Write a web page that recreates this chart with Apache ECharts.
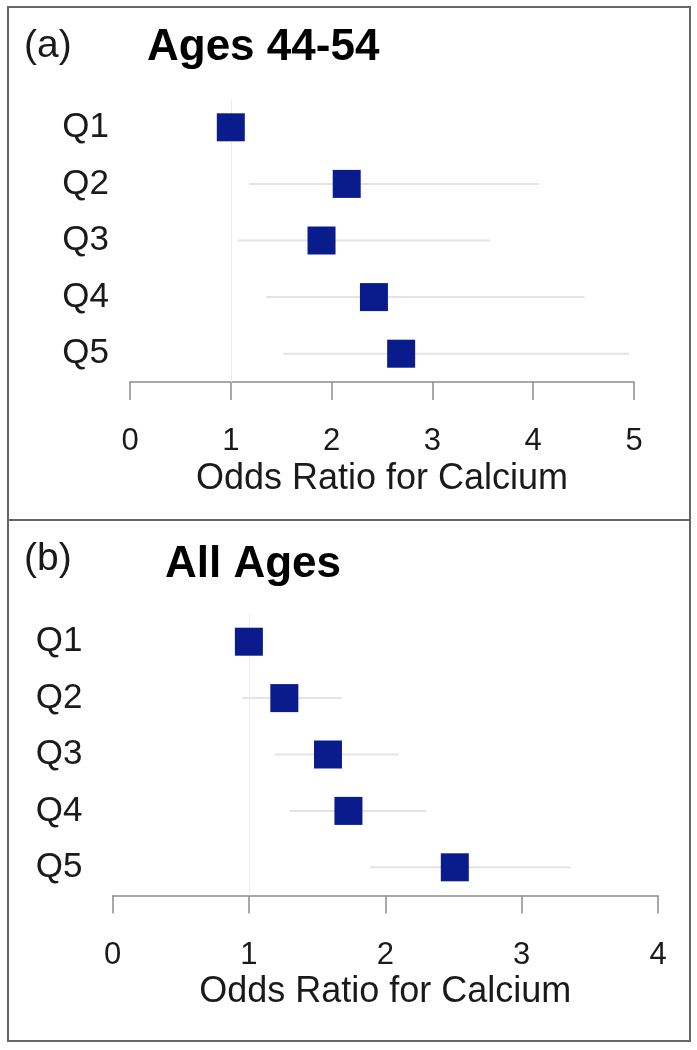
<!DOCTYPE html>
<html><head><meta charset="utf-8">
<script src="https://cdn.jsdelivr.net/npm/echarts@6/dist/echarts.min.js"></script>
<style>html,body{margin:0;padding:0;background:#fff}#c{width:697px;height:1050px}</style>
</head><body><div id="c"></div>
<script>
var categories = ['Q1','Q2','Q3','Q4','Q5'];
// Panel (a): Ages 44-54
var orA   = [1.00, 2.15, 1.90, 2.42, 2.69];
var lowA  = [1.00, 1.18, 1.07, 1.35, 1.52];
var highA = [1.00, 4.06, 3.57, 4.51, 4.95];
// Panel (b): All Ages
var orB   = [1.00, 1.26, 1.58, 1.73, 2.51];
var lowB  = [1.00, 0.95, 1.19, 1.30, 1.89];
var highB = [1.00, 1.68, 2.10, 2.30, 3.36];
var ticksA = [0, 1, 2, 3, 4, 5];
var ticksB = [0, 1, 2, 3, 4];
var panelTitles = ['Ages 44-54', 'All Ages'];
var panelLetters = ['(a)', '(b)'];
var axisName = 'Odds Ratio for Calcium';

var FONT = '"Liberation Sans", Arial, sans-serif';
var navy = '#0a1c8c';

function errData(low, high){
  return categories.map(function(c,i){ return [low[i], high[i], i]; });
}
function ptData(or){
  return categories.map(function(c,i){ return [or[i], i]; });
}
function renderErr(params, api){
  var a = api.coord([api.value(0), api.value(2)]);
  var b = api.coord([api.value(1), api.value(2)]);
  return {type:'line', shape:{x1:a[0],y1:a[1],x2:b[0],y2:b[1]},
          style:{stroke:'#e4e4e4', lineWidth:2}};
}
function xAxisCfg(idx, ticks){
  return {
    type:'value', gridIndex: idx, min: ticks[0], max: ticks[ticks.length-1], interval: 1,
    name: axisName, nameLocation:'middle', nameGap: 97,
    nameTextStyle:{fontFamily:FONT, fontSize:36, color:'#1a1a1a', verticalAlign:'middle'},
    axisLine:{show:true, lineStyle:{color:'#8c8c8c', width:1.5}},
    axisTick:{show:true, length:18, lineStyle:{color:'#8c8c8c', width:1.5}},
    axisLabel:{fontFamily:FONT, fontSize:31, color:'#1a1a1a', margin:44, verticalAlign:'top'},
    splitLine:{show:false}
  };
}
function yAxisCfg(idx, margin){
  return {
    type:'category', gridIndex: idx, data: categories, inverse:true,
    axisLine:{show:false}, axisTick:{show:false}, splitLine:{show:false},
    axisLabel:{fontFamily:FONT, fontSize:35, color:'#1a1a1a', margin: margin}
  };
}
function markRef(){
  return {silent:true, symbol:['none','none'], label:{show:false},
          lineStyle:{color:'#ececec', type:'solid', width:1},
          data:[{xAxis:1}]};
}

var option = {
  animation:false,
  backgroundColor:'#fff',
  grid:[
    {left:130, right:63, top:99, height:283},
    {left:112.5, right:39, top:613.5, height:282}
  ],
  xAxis:[xAxisCfg(0, ticksA), xAxisCfg(1, ticksB)],
  yAxis:[yAxisCfg(0, 21), yAxisCfg(1, 30)],
  series:[
    {type:'custom', xAxisIndex:0, yAxisIndex:0, renderItem:renderErr,
     encode:{x:[0,1], y:2}, data: errData(lowA, highA), z:2},
    {type:'scatter', xAxisIndex:0, yAxisIndex:0, symbol:'rect', symbolSize:28,
     itemStyle:{color:navy, opacity:1}, data: ptData(orA), z:5, markLine: markRef()},
    {type:'custom', xAxisIndex:1, yAxisIndex:1, renderItem:renderErr,
     encode:{x:[0,1], y:2}, data: errData(lowB, highB), z:2},
    {type:'scatter', xAxisIndex:1, yAxisIndex:1, symbol:'rect', symbolSize:28,
     itemStyle:{color:navy, opacity:1}, data: ptData(orB), z:5, markLine: markRef()}
  ],
  graphic:[
    {type:'rect', shape:{x:8, y:7, width:682, height:513}, style:{fill:'none', stroke:'#666', lineWidth:2}, z:100},
    {type:'rect', shape:{x:8, y:520, width:682, height:521}, style:{fill:'none', stroke:'#666', lineWidth:2}, z:100},
    {type:'text', x:24, y:46, style:{text:panelLetters[0], font:'39px '+FONT, fill:'#1a1a1a', textVerticalAlign:'middle'}},
    {type:'text', x:147, y:48, style:{text:panelTitles[0], font:'bold 44px '+FONT, fill:'#000', textVerticalAlign:'middle'}},
    {type:'text', x:24, y:559, style:{text:panelLetters[1], font:'39px '+FONT, fill:'#1a1a1a', textVerticalAlign:'middle'}},
    {type:'text', x:165, y:565, style:{text:panelTitles[1], font:'bold 44px '+FONT, fill:'#000', textVerticalAlign:'middle'}}
  ]
};
var chart = echarts.init(document.getElementById('c'));
chart.setOption(option);
</script>
</body></html>
